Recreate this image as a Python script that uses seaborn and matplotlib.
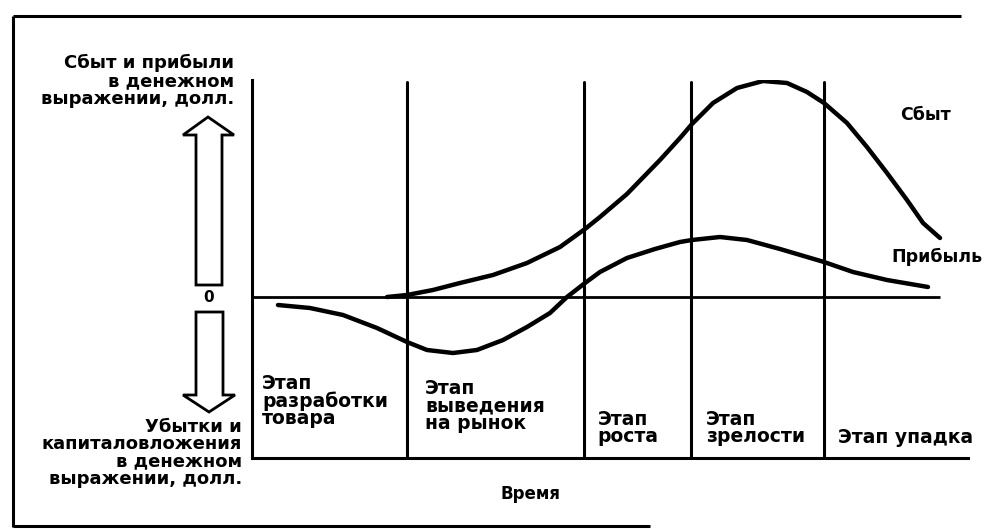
import matplotlib
matplotlib.use("Agg")
import matplotlib.pyplot as plt
from matplotlib.patches import Polygon
import numpy as np
import pandas as pd
import seaborn as sns

# ---- data: product life cycle (time in % of span, money in relative units) ----
sales_time = [18.85, 21.65, 25.28, 29.05, 33.66, 38.41, 43.02, 46.51, 48.60,
              52.37, 56.98, 59.78, 61.45, 64.39, 67.74, 71.37, 74.72, 77.51,
              79.89, 83.10, 85.89, 88.69, 91.48, 93.72, 96.09]
sales_value = [0.0, 0.92, 3.23, 6.45, 10.14, 15.67, 23.04, 31.34, 36.87,
               47.47, 63.13, 73.27, 79.72, 89.40, 96.31, 99.54, 98.62, 94.47,
               89.40, 80.18, 69.12, 57.14, 44.70, 34.10, 27.19]

profit_time = [3.63, 8.10, 12.71, 17.46, 21.65, 24.44, 28.07, 31.42, 35.06,
               38.41, 41.62, 43.99, 46.51, 48.60, 52.37, 56.28, 59.78, 61.45,
               65.36, 69.13, 73.74, 79.89, 83.94, 88.69, 94.41]
profit_value = [-3.69, -5.07, -8.29, -14.29, -20.74, -24.42, -25.81, -24.42, -19.82,
                -13.82, -7.37, 0.0, 6.45, 11.52, 17.97, 22.12, 25.35, 26.27,
                27.65, 26.27, 22.12, 16.13, 11.52, 7.83, 4.61]

stage_bounds = [21.6, 46.4, 61.3, 79.9]
stage_labels = ["Этап\nразработки\nтовара", "Этап\nвыведения\nна рынок",
                "Этап\nроста", "Этап\nзрелости", "Этап упадка"]
series_labels = ["Сбыт", "Прибыль"]
upper_axis_label = "Сбыт и прибыли\nв денежном\nвыражении, долл."
lower_axis_label = "Убытки и\nкапиталовложения\nв денежном\nвыражении, долл."
x_axis_label = "Время"
zero_label = "0"

# ---- figure ----
sns.set_theme(style="white")
plt.rcParams["font.family"] = ["DejaVu Sans"]

W, H = 991, 529
fig = plt.figure(figsize=(W / 100, H / 100), dpi=100)
fig.patch.set_facecolor("white")

# full-figure overlay in pixel units for frame, arrows and side captions
deco = fig.add_axes([0, 0, 1, 1])
deco.set_xlim(0, W)
deco.set_ylim(H, 0)
deco.axis("off")

# main plotting area
L, R, T, B = 252, 968, 80, 458
ax = fig.add_axes([L / W, 1 - B / H, (R - L) / W, (B - T) / H])
ax.set_xlim(0, 100)
ax.set_ylim((297 - B) / 2.17, (297 - T) / 2.17)
ax.set_facecolor("none")
for side in ["top", "right"]:
    ax.spines[side].set_visible(False)
for side in ["left", "bottom"]:
    ax.spines[side].set_color("black")
    ax.spines[side].set_linewidth(2.2)
ax.set_xticks([])
ax.set_yticks([])

ink = "#000000"

# zero line and stage boundaries
ax.plot([0, 96.1], [0, 0], color=ink, lw=2.0, solid_capstyle="butt")
for xb in stage_bounds:
    ax.axvline(xb, ymin=0, ymax=0.995, color=ink, lw=2.2)

# curves
sales_df = pd.DataFrame({"t": sales_time, "v": sales_value})
profit_df = pd.DataFrame({"t": profit_time, "v": profit_value})
for df in (sales_df, profit_df):
    sns.lineplot(data=df, x="t", y="v", ax=ax, color=ink, lw=3.2,
                 sort=False, estimator=None,
                 solid_capstyle="round", solid_joinstyle="round")
ax.set_xlabel("")
ax.set_ylabel("")

# stage captions
stage_x = [1.4, 24.2, 48.3, 63.4, 81.8]
stage_top = [-35.3, -37.6, -52.0, -52.0, -60.5]
for x, y, txt in zip(stage_x, stage_top, stage_labels):
    ax.text(x, y, txt, ha="left", va="top", fontsize=13.5, fontweight="bold",
            linespacing=0.9, color=ink)

# series captions
ax.text(90.5, 84.0, series_labels[0], ha="left", va="center", fontsize=12.5,
        fontweight="bold", color=ink)
ax.text(89.3, 18.4, series_labels[1], ha="left", va="center", fontsize=12.5,
        fontweight="bold", color=ink)

# outer frame
frame_kw = dict(color=ink, lw=2.2, solid_capstyle="butt")
deco.plot([13, 961], [16, 16], **frame_kw)
deco.plot([13, 13], [16, 527], **frame_kw)
deco.plot([13, 650], [526, 526], **frame_kw)

# hollow block arrows
up = [(196, 285), (196, 135), (183, 135), (208, 117), (234, 135), (222, 135), (222, 285)]
down = [(196, 312), (196, 395), (183, 395), (209, 412), (235, 395), (223, 395), (223, 312)]
for pts in (up, down):
    deco.add_patch(Polygon(pts, closed=True, facecolor="white", edgecolor=ink,
                           lw=2.0, joinstyle="miter"))

deco.text(209, 297, zero_label, ha="center", va="center", fontsize=11,
          fontweight="bold", color=ink)
deco.text(234, 54, upper_axis_label, ha="right", va="top", fontsize=13,
          fontweight="bold", linespacing=1.0, color=ink)
deco.text(242, 418, lower_axis_label, ha="right", va="top", fontsize=13,
          fontweight="bold", linespacing=0.95, color=ink)
deco.text(530, 494, x_axis_label, ha="center", va="center", fontsize=12,
          fontweight="bold", color=ink)

fig.savefig("out.png", dpi=100, facecolor="white")
